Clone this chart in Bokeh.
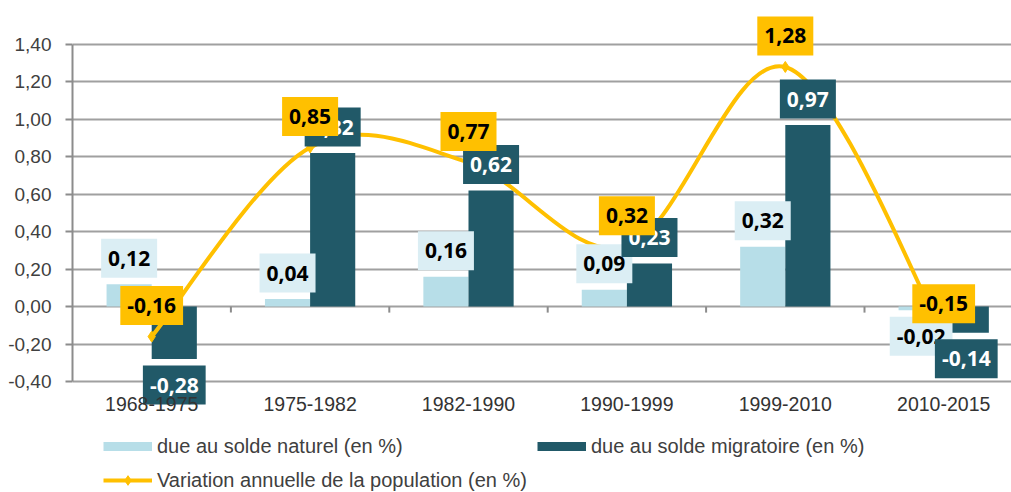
from bokeh.plotting import figure
from bokeh.models import (ColumnDataSource, Range1d, FixedTicker, CustomJSTickFormatter,
                          Legend, LegendItem)
from bokeh.transform import dodge
from bokeh.core.properties import value
from bokeh.embed import file_html
from bokeh.resources import INLINE

# ---- data -------------------------------------------------------------
periods = ["1968-1975", "1975-1982", "1982-1990", "1990-1999", "1999-2010", "2010-2015"]
solde_naturel = [0.12, 0.04, 0.16, 0.09, 0.32, -0.02]
solde_migratoire = [-0.28, 0.82, 0.62, 0.23, 0.97, -0.14]
variation = [-0.16, 0.85, 0.77, 0.32, 1.28, -0.15]
y_ticks = [-0.40, -0.20, 0.00, 0.20, 0.40, 0.60, 0.80, 1.00, 1.20, 1.40]

# ---- styles / layout --------------------------------------------------
LIGHT = "#b7dee8"
LIGHT_LABEL = "#dbeef4"
DARK = "#215968"
YELLOW = "#ffc000"
GRID = "#a0a0a0"
AXIS = "#8c8c8c"
TXT = "#404040"

W, H = 1011, 492
LEFT = 72            # plot area left edge (px)
TOP_PX = 44          # pixel row of the top tick
BOT_PX = 381         # pixel row of the bottom tick
CAT_PX = 158.4       # width of one category (px)

n = len(periods)
xc = [i + 0.5 for i in range(n)]


def fmt(v):
    return f"{v:.2f}".replace(".", ",")


def off(vals, d):
    return [-d if v >= 0 else d for v in vals]


src = ColumnDataSource(dict(
    x=xc, per=periods,
    nat=solde_naturel, mig=solde_migratoire, var=variation,
    nat_lbl=[fmt(v) for v in solde_naturel],
    mig_lbl=[fmt(v) for v in solde_migratoire],
    var_lbl=[fmt(v) for v in variation],
    nat_off=off(solde_naturel, 26),
    mig_off=off(solde_migratoire, 26),
    base=[y_ticks[0]] * n,
))

Y0, Y1 = y_ticks[0], y_ticks[-1]
ppu = (BOT_PX - TOP_PX) / (Y1 - Y0)
y_start = Y0 - (H - BOT_PX) / ppu
y_end = Y1 + TOP_PX / ppu
x_end = (W - LEFT) / CAT_PX

p = figure(width=W, height=H,
           x_range=Range1d(0, x_end), y_range=Range1d(y_start, y_end),
           output_backend="svg", toolbar_location=None, x_axis_location=None,
           min_border_left=LEFT, min_border_right=0,
           min_border_top=0, min_border_bottom=0)
p.outline_line_color = None
p.xgrid.visible = False
p.ygrid.grid_line_color = GRID
p.ygrid.grid_line_width = 2

# y axis
p.yaxis.ticker = FixedTicker(ticks=y_ticks)
p.yaxis.bounds = (Y0, Y1)
p.yaxis.formatter = CustomJSTickFormatter(code="return tick.toFixed(2).replace('.', ',');")
p.yaxis.axis_line_color = AXIS
p.yaxis.axis_line_width = 2
p.yaxis.major_tick_line_color = AXIS
p.yaxis.major_tick_line_width = 2
p.yaxis.major_tick_out = 7
p.yaxis.major_tick_in = 0
p.yaxis.minor_tick_line_color = None
p.yaxis.major_label_standoff = 14
p.yaxis.major_label_text_font = "Liberation Sans"
p.yaxis.major_label_text_font_size = "19px"
p.yaxis.major_label_text_color = TXT

# category boundary ticks under the zero line
tick_len = 6 / ppu
bounds = list(range(1, n))
p.segment(x0=bounds, y0=[0] * len(bounds), x1=bounds, y1=[-tick_len] * len(bounds),
          line_color=AXIS, line_width=2)

# bars
BW = 0.285
p.vbar(x=dodge("x", -BW / 2, range=p.x_range), top="nat", bottom=0, width=BW,
       source=src, fill_color=LIGHT, line_color=None)
p.vbar(x=dodge("x", BW / 2, range=p.x_range), top="mig", bottom=0, width=BW,
       source=src, fill_color=DARK, line_color=None)

# smoothed line (Catmull-Rom style bezier through the data points)
pts = list(zip(xc, variation))
bz = dict(x0=[], y0=[], x1=[], y1=[], cx0=[], cy0=[], cx1=[], cy1=[])
for i in range(n - 1):
    p0 = pts[max(i - 1, 0)]
    p1 = pts[i]
    p2 = pts[i + 1]
    p3 = pts[min(i + 2, n - 1)]
    bz["x0"].append(p1[0]); bz["y0"].append(p1[1])
    bz["x1"].append(p2[0]); bz["y1"].append(p2[1])
    bz["cx0"].append(p1[0] + (p2[0] - p0[0]) / 6)
    bz["cy0"].append(p1[1] + (p2[1] - p0[1]) / 6)
    bz["cx1"].append(p2[0] - (p3[0] - p1[0]) / 6)
    bz["cy1"].append(p2[1] - (p3[1] - p1[1]) / 6)
p.bezier(source=ColumnDataSource(bz), x0="x0", y0="y0", x1="x1", y1="y1",
         cx0="cx0", cy0="cy0", cx1="cx1", cy1="cy1",
         line_color=YELLOW, line_width=4)
p.scatter(x="x", y="var", source=src, marker="diamond", size=11,
          fill_color=YELLOW, line_color=YELLOW)

# data labels
common = dict(text_font=value("Open Sans"), text_font_style="bold",
              text_font_size="21px", text_align="center", text_baseline="middle",
              padding=(7, 12))
p.text(x=dodge("x", -BW / 2, range=p.x_range), y="nat", text="nat_lbl", source=src,
       y_offset="nat_off", text_color="#000000",
       background_fill_color=LIGHT_LABEL, **common)
p.text(x=dodge("x", BW / 2, range=p.x_range), y="mig", text="mig_lbl", source=src,
       y_offset="mig_off", text_color="#ffffff",
       background_fill_color=DARK, **common)
p.text(x="x", y="var", text="var_lbl", source=src, y_offset=-31,
       text_color="#000000", background_fill_color=YELLOW, **common)

# category labels (below the plot area)
p.text(x="x", y="base", text="per", source=src, y_offset=22,
       text_font=value("Liberation Sans"), text_font_size="19.5px",
       text_align="center", text_baseline="middle", text_color="#333333")

# legend proxies (NaN data: nothing drawn in the plot, only in the legend)
nan = float("nan")
r_nat = p.line(x=[nan, nan], y=[nan, nan], line_color=LIGHT, line_width=9)
r_mig = p.line(x=[nan, nan], y=[nan, nan], line_color=DARK, line_width=9)
r_var_l = p.line(x=[nan, nan], y=[nan, nan], line_color=YELLOW, line_width=4)
r_var_m = p.scatter(x=[nan], y=[nan], marker="diamond", size=10,
                    fill_color=YELLOW, line_color=YELLOW)
legend = Legend(items=[
    LegendItem(label="due au solde naturel (en %)", renderers=[r_nat]),
    LegendItem(label="due au solde migratoire (en %)", renderers=[r_mig]),
    LegendItem(label="Variation annuelle de la population (en %)", renderers=[r_var_l, r_var_m]),
], location=(31, 0), orientation="horizontal", ncols=2,
    glyph_width=49, glyph_height=24, label_height=24, label_width=365,
    label_standoff=5, spacing=10, padding=0, margin=0,
    border_line_color=None, background_fill_alpha=0,
    label_text_font="Liberation Sans", label_text_font_size="20px",
    label_text_color=TXT)
p.add_layout(legend)

open("out.html", "w").write(file_html(p, INLINE))
